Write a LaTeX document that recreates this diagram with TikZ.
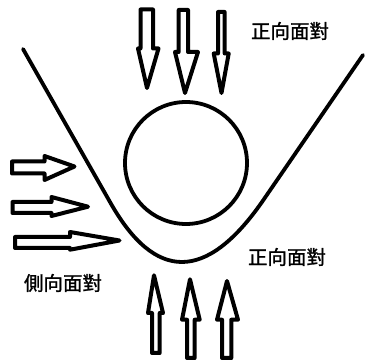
\documentclass[tikz,border=0pt]{standalone}
\usepackage{fontspec}
\newfontfamily\cjk[FakeBold=1.2]{Noto Sans CJK TC}
\begin{document}
\begin{tikzpicture}[x=1pt,y=-1pt,
  blk/.style={draw=black,line width=4pt,line join=round,fill=white},
  lbl/.style={font=\cjk\fontsize{19.5}{20}\selectfont,inner sep=0pt,text=black}]
\useasboundingbox (0,0) rectangle (365,363);
% V-shaped surface
\draw[line width=3.8pt,line cap=round] (23,49) -- (110,202) .. controls (155,282) and (206,282) .. (262,202) -- (363,55);
% circle
\draw[line width=3.8pt] (186,163) circle (61);
% top arrows (down)
\draw[blk] (140.5,9.5) -- (153,9.5) -- (153,48.5) -- (158.5,48.5) -- (147,88) -- (138,48.5) -- (140.5,48.5) -- cycle;
\draw[blk] (178.7,10) -- (188,10) -- (188,52) -- (198,52) -- (185,93) -- (175,52) -- (178.7,52) -- cycle;
\draw[blk] (218,12) -- (224.7,12) -- (224.7,53.5) -- (228.7,53.5) -- (221.5,93) -- (213.7,53.5) -- (218,53.5) -- cycle;
% left arrows (right)
\draw[blk] (12,161.5) -- (44.5,161.5) -- (44.5,156) -- (74.5,166.5) -- (44.5,180) -- (44.5,173.5) -- (12,173.5) -- cycle;
\draw[blk] (12.5,202) -- (51.5,202) -- (51.5,197) -- (88,206.7) -- (51.5,216) -- (51.5,213) -- (12.5,213) -- cycle;
\draw[blk] (15,237) -- (70,237) -- (70,232) -- (119.5,240.5) -- (70,249.7) -- (70,248) -- (15,248) -- cycle;
% bottom arrows (up)
\draw[blk] (152,353) -- (152,313) -- (148,313) -- (154,275.3) -- (163,313) -- (159.7,313) -- (159.7,353) -- cycle;
\draw[blk] (187,358) -- (187,319.7) -- (182,319.7) -- (190,279.3) -- (199.7,319.7) -- (194.7,319.7) -- (194.7,358) -- cycle;
\draw[blk] (222,358) -- (222,319.7) -- (217,319.7) -- (227,281) -- (238,319.7) -- (231.3,319.7) -- (231.3,358) -- cycle;
% labels
\node[lbl] (t1) at (290,31) {正向面對};
\node[lbl] (t2) at (287,257) {正向面對};
\node[lbl] (t3) at (63,283) {側向面對};
\end{tikzpicture}
\end{document}
